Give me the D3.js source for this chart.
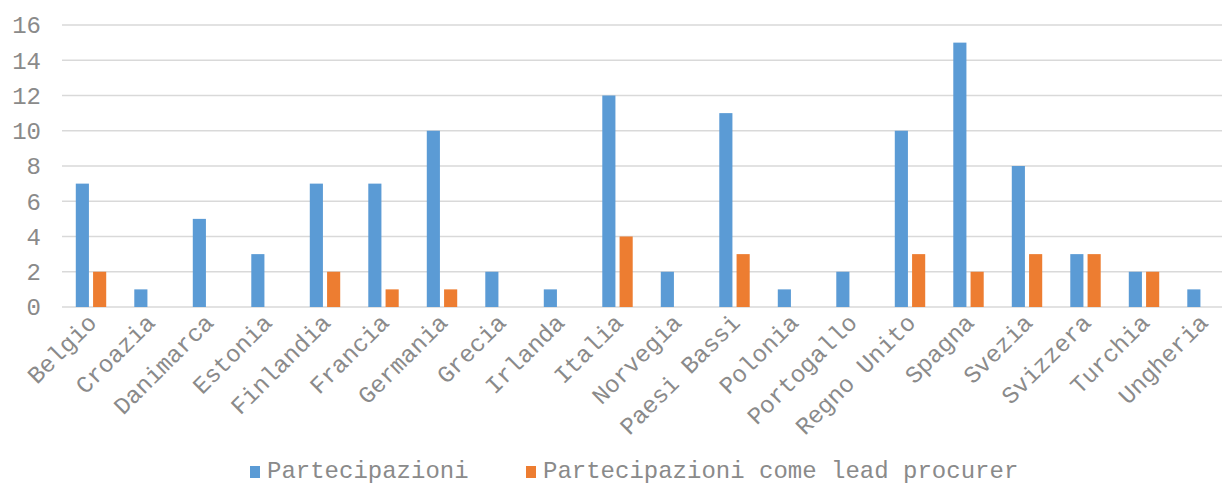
<!DOCTYPE html>
<html lang="it">
<head>
    <meta charset="UTF-8">
    <title>Partecipazioni per paese</title>
    <script src="https://d3js.org/d3.v7.min.js"></script>
    <style>
        body { margin: 0; background: #fff; }
        text { font-family: "Liberation Mono", "Courier New", monospace; fill: #8a8a8a; }
        .grid line { stroke: #d9d9d9; stroke-width: 1.5px; }
    </style>
</head>
<body>
    <svg class="chart"></svg>
    <script>
        // categories and series
        var paesi = ['Belgio', 'Croazia', 'Danimarca', 'Estonia', 'Finlandia', 'Francia', 'Germania',
                     'Grecia', 'Irlanda', 'Italia', 'Norvegia', 'Paesi Bassi', 'Polonia', 'Portogallo',
                     'Regno Unito', 'Spagna', 'Svezia', 'Svizzera', 'Turchia', 'Ungheria'];
        var partecipazioni = [7, 1, 5, 3, 7, 7, 10, 2, 1, 12, 2, 11, 1, 2, 10, 15, 8, 3, 2, 1];
        var leadProcurer   = [2, 0, 0, 0, 2, 1, 1, 0, 0, 4, 0, 3, 0, 0, 3, 2, 3, 3, 2, 0];
        var serie = ['Partecipazioni', 'Partecipazioni come lead procurer'];
        var colori = ['#5b9bd5', '#ed7d31'];
        var yTicks = [0, 2, 4, 6, 8, 10, 12, 14, 16];

        var width = 1224, height = 484;
        var svg = d3.select('.chart').attr('width', width).attr('height', height);

        var x0 = d3.scaleBand().domain(paesi).range([61.75, 1231.75]).paddingInner(0.48).paddingOuter(0.24);
        var x1 = d3.scaleBand().domain(serie).range([0, x0.bandwidth()]).paddingInner(0.24);
        var y = d3.scaleLinear().domain([0, 16]).range([307, 25]);

        // gridlines
        svg.append('g').attr('class', 'grid')
           .selectAll('line').data(yTicks).enter().append('line')
           .attr('x1', 62).attr('x2', 1222)
           .attr('y1', d => y(d)).attr('y2', d => y(d));

        // y axis labels
        svg.append('g').selectAll('text').data(yTicks).enter().append('text')
           .attr('x', 41).attr('y', d => y(d)).attr('dy', '0.35em')
           .attr('text-anchor', 'end').style('font-size', '24px')
           .text(d => d);

        // bars
        var rows = paesi.map((p, i) => ({ paese: p, valori: [partecipazioni[i], leadProcurer[i]] }));
        var gruppi = svg.append('g').selectAll('g').data(rows).enter().append('g')
           .attr('transform', d => 'translate(' + x0(d.paese) + ',0)');
        gruppi.selectAll('rect')
           .data(d => d.valori.map((v, k) => ({ serie: serie[k], v: v, k: k })).filter(e => e.v > 0))
           .enter().append('rect')
           .attr('x', d => x1(d.serie))
           .attr('width', x1.bandwidth())
           .attr('y', d => y(d.v))
           .attr('height', d => y(0) - y(d.v))
           .attr('fill', d => colori[d.k]);

        // x labels, rotated
        svg.append('g').selectAll('text').data(paesi).enter().append('text')
           .attr('text-anchor', 'end').style('font-size', '24px')
           .attr('transform', d => 'translate(' + (x0(d) + x0.bandwidth() / 2 + 7) + ',324) rotate(-45)')
           .text(d => d);

        // legend
        var legendX = [250, 526];
        var leg = svg.append('g').selectAll('g').data(serie).enter().append('g')
           .attr('transform', (d, i) => 'translate(' + legendX[i] + ',466)');
        leg.append('rect').attr('width', 10).attr('height', 12).attr('fill', (d, i) => colori[i]);
        leg.append('text').attr('x', 17).attr('y', 12).style('font-size', '24px').text(d => d);
    </script>
</body>
</html>
